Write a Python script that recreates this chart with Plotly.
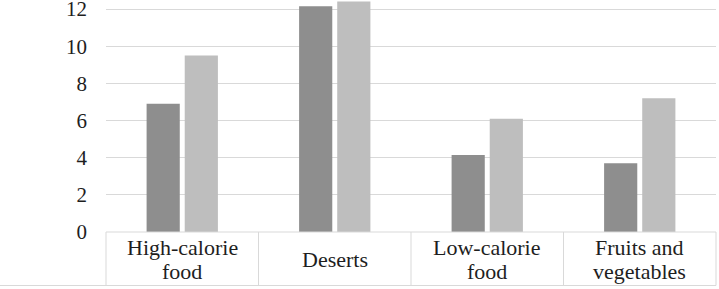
import plotly.graph_objects as go

categories = ["High-calorie<br>food", "Deserts", "Low-calorie<br>food", "Fruits and<br>vegetables"]
series_dark = [6.9, 12.15, 4.15, 3.7]
series_light = [9.5, 12.4, 6.1, 7.2]
y_ticks = [0, 2, 4, 6, 8, 10, 12]

W, H = 719, 289
ML, MR, MT, MB = 106, 3, 0, 57
PW = W - ML - MR
PH = H - MT - MB
FONT = "Liberation Serif, Times New Roman, serif"
TXT = "#1e1e1e"
GRID = "#d9d9d9"

xs = list(range(len(categories)))

fig = go.Figure()
fig.add_trace(go.Bar(x=xs, y=series_dark, marker=dict(color="#8e8e8e", line=dict(width=0)), name="Series 1"))
fig.add_trace(go.Bar(x=xs, y=series_light, marker=dict(color="#bebebe", line=dict(width=0)), name="Series 2"))

n = len(categories)
shapes = []
bottom = -(285.5 - PH - MT) / PH
# top border of table (axis line)
shapes.append(dict(type="line", xref="paper", yref="paper", x0=0, x1=1, y0=0, y1=0,
                   line=dict(color=GRID, width=1)))
# bottom border extending to left edge
shapes.append(dict(type="line", xref="paper", yref="paper", x0=-ML / PW, x1=1, y0=bottom, y1=bottom,
                   line=dict(color=GRID, width=1)))
for i in range(n + 1):
    shapes.append(dict(type="line", xref="paper", yref="paper", x0=i / n, x1=i / n, y0=0, y1=bottom,
                       line=dict(color=GRID, width=1)))

annotations = []
center_px = 259.5
line_step = 23.5
for i, lab in enumerate(categories):
    lines = lab.split("<br>")
    k = len(lines)
    for j, ln in enumerate(lines):
        py = center_px + (j - (k - 1) / 2) * line_step
        annotations.append(dict(x=i, xref="x", y=(PH + MT - py) / PH, yref="paper",
                                text=ln, showarrow=False, xanchor="center", yanchor="middle",
                                font=dict(family=FONT, size=22, color=TXT)))

fig.update_layout(
    width=W, height=H,
    margin=dict(l=ML, r=MR, t=MT, b=MB, pad=0, autoexpand=False),
    paper_bgcolor="white", plot_bgcolor="white",
    barmode="group", bargap=0.5, bargroupgap=0.13,
    showlegend=False,
    shapes=shapes,
    annotations=annotations,
    xaxis=dict(range=[-0.5, n - 0.5], showticklabels=False, showgrid=False, zeroline=False,
               showline=False, ticks="", fixedrange=True, automargin=False),
    yaxis=dict(range=[0, PH / 18.58], tickvals=y_ticks, ticktext=[str(v) for v in y_ticks],
               showgrid=True, gridcolor=GRID, gridwidth=1, zeroline=False, showline=False,
               ticks="", ticklabelstandoff=18, automargin=False, ticklabeloverflow="allow",
               tickfont=dict(family=FONT, size=21, color=TXT)),
)

fig.write_html("out.html", config={"responsive": False, "displayModeBar": False},
               post_script="document.body.style.margin='0';document.body.style.overflow='hidden';")
